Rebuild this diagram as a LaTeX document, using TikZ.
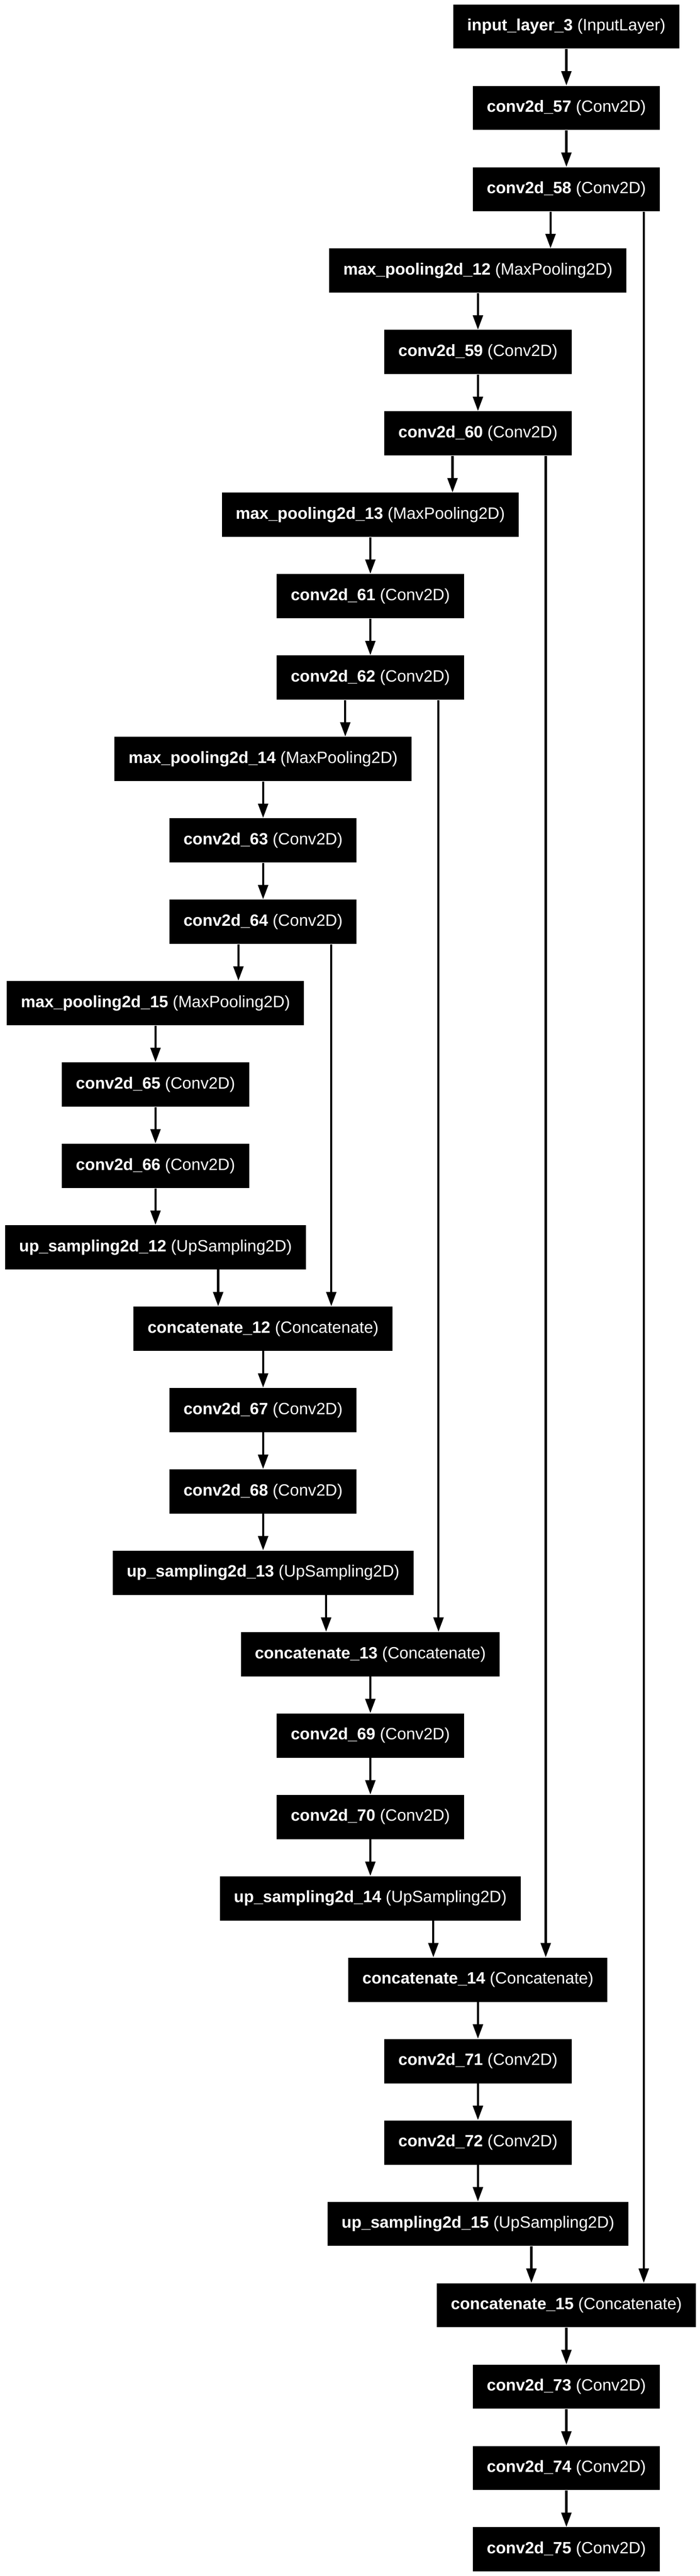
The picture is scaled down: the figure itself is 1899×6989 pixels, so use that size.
\documentclass[tikz,border=0pt]{standalone}
\usepackage{fontspec}
\setmainfont{Liberation Sans}
\usetikzlibrary{calc, arrows.meta}

\begin{document}
\begin{tikzpicture}[x=0.25pt, y=-0.25pt,
  layer/.style={fill=black, text=white, inner xsep=9.5pt, inner ysep=0pt,
    minimum height=30pt, font=\fontsize{11.1}{13}\selectfont},
  edge/.style={-{Triangle[length=9.75pt, width=6.75pt]}, line width=1.5pt}]
  \useasboundingbox (0,0) rectangle (1899,6989);

  % Layers: node/x/row/name/type
  \foreach \n/\x/\r/\lbl/\typ in {
    in3/1537/0/input\_layer\_3/InputLayer,
    c57/1537/1/conv2d\_57/Conv2D,
    c58/1537/2/conv2d\_58/Conv2D,
    mp12/1297/3/max\_pooling2d\_12/MaxPooling2D,
    c59/1297/4/conv2d\_59/Conv2D,
    c60/1297/5/conv2d\_60/Conv2D,
    mp13/1005/6/max\_pooling2d\_13/MaxPooling2D,
    c61/1005/7/conv2d\_61/Conv2D,
    c62/1005/8/conv2d\_62/Conv2D,
    mp14/714/9/max\_pooling2d\_14/MaxPooling2D,
    c63/714/10/conv2d\_63/Conv2D,
    c64/714/11/conv2d\_64/Conv2D,
    mp15/422/12/max\_pooling2d\_15/MaxPooling2D,
    c65/422/13/conv2d\_65/Conv2D,
    c66/422/14/conv2d\_66/Conv2D,
    up12/422/15/up\_sampling2d\_12/UpSampling2D,
    cat12/714/16/concatenate\_12/Concatenate,
    c67/714/17/conv2d\_67/Conv2D,
    c68/714/18/conv2d\_68/Conv2D,
    up13/714/19/up\_sampling2d\_13/UpSampling2D,
    cat13/1005/20/concatenate\_13/Concatenate,
    c69/1005/21/conv2d\_69/Conv2D,
    c70/1005/22/conv2d\_70/Conv2D,
    up14/1005/23/up\_sampling2d\_14/UpSampling2D,
    cat14/1297/24/concatenate\_14/Concatenate,
    c71/1297/25/conv2d\_71/Conv2D,
    c72/1297/26/conv2d\_72/Conv2D,
    up15/1297/27/up\_sampling2d\_15/UpSampling2D,
    cat15/1537/28/concatenate\_15/Concatenate,
    c73/1537/29/conv2d\_73/Conv2D,
    c74/1537/30/conv2d\_74/Conv2D,
    c75/1537/31/conv2d\_75/Conv2D} {
    \node[layer] (\n) at (\x, 72+220.8*\r) {\textbf{\lbl} (\typ)};
  }

  % Straight links
  \foreach \a/\b in {in3/c57, c57/c58, mp12/c59, c59/c60, mp13/c61, c61/c62,
    mp14/c63, c63/c64, mp15/c65, c65/c66, c66/up12, cat12/c67, c67/c68,
    c68/up13, cat13/c69, c69/c70, c70/up14, cat14/c71, c71/c72, c72/up15,
    cat15/c73, c73/c74, c74/c75} {
    \draw[edge] (\a) -- (\b);
  }

  % Pooling and skip links
  \foreach \a/\b/\dx in {c58/mp12/-43, c58/cat15/210, c60/mp13/-69, c60/cat14/184,
    c62/mp14/-68, c62/cat13/185, c64/mp15/-67, c64/cat12/185,
    up12/cat12/170, up13/cat13/171, up14/cat14/171, up15/cat15/145} {
    \draw[edge] ($(\a.south)+(\dx,0)$) -- ($(\a.south |- \b.north)+(\dx,0)$);
  }
\end{tikzpicture}
\end{document}
